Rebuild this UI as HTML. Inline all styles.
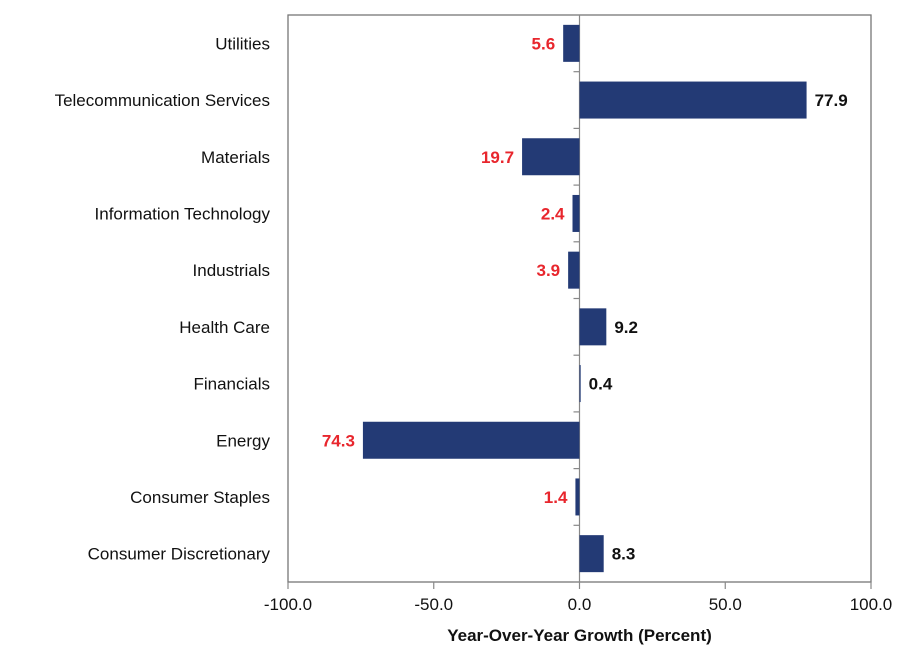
<!DOCTYPE html>
<html><head><meta charset="utf-8"><style>
body{margin:0;background:#fff;}
svg{display:block;font-family:"Liberation Sans",Arial,sans-serif;}
</style></head><body>
<svg id="chart" width="910" height="660" viewBox="0 0 910 660"></svg>
<script>
const categories=["Utilities","Telecommunication Services","Materials","Information Technology","Industrials","Health Care","Financials","Energy","Consumer Staples","Consumer Discretionary"];
const values=[-5.6,77.9,-19.7,-2.4,-3.9,9.2,0.4,-74.3,-1.4,8.3];
const ticks=[-100,-50,0,50,100];
const NS="http://www.w3.org/2000/svg";
const svg=document.getElementById('chart');
const L=288,R=871,T=15,B=582;
const x=v=>L+(v+100)/200*(R-L);
const band=(B-T)/categories.length;
const y=i=>T+band*(i+0.5);
function mk(t,a){const e=document.createElementNS(NS,t);for(const k in a)e.setAttribute(k,a[k]);svg.appendChild(e);return e;}
let f=mk('rect',{x:L,y:T,width:R-L,height:B-T,fill:'none',stroke:'#777','stroke-width':1.3});


ticks.forEach(t=>{
  let l=mk('line',{x1:x(t),x2:x(t),y1:B,y2:B+7,stroke:'#888','stroke-width':1.2});
  
  
  let tx=mk('text',{x:x(t),y:B+28,'text-anchor':'middle','font-size':17,fill:'#111'});
  tx.textContent=t.toFixed(1);
  
  
});
let zl=mk('line',{x1:x(0),x2:x(0),y1:T,y2:B,stroke:'#888','stroke-width':1.2});


for(let i=0;i<=categories.length;i++){
  let l=mk('line',{x1:x(0)-6,x2:x(0),y1:T+band*i,y2:T+band*i,stroke:'#888','stroke-width':1.2});
  
  
}
categories.forEach((c,i)=>{
  const v=values[i],cy=y(i),h=37;
  let r=mk('rect',{x:Math.min(x(0),x(v)),y:cy-h/2,width:Math.max(1,Math.abs(x(v)-x(0))),height:h,fill:'#233a75'});
  
  
  let lb=mk('text',{x:270,y:cy+6,'text-anchor':'end','font-size':17,fill:'#111'});
  lb.textContent=c;
  
  
  const neg=v<0;
  let vl=mk('text',{x:neg?x(v)-8:x(v)+8,y:cy+6,'text-anchor':neg?'end':'start','font-size':17,'font-weight':'bold',fill:neg?'#e8262d':'#111'});
  vl.textContent=Math.abs(v).toFixed(1);
  
  
});
let xt=mk('text',{x:(L+R)/2,y:641,'text-anchor':'middle','font-size':17,'font-weight':'bold',fill:'#111'});
xt.textContent='Year-Over-Year Growth (Percent)';


</script>
</body></html>
